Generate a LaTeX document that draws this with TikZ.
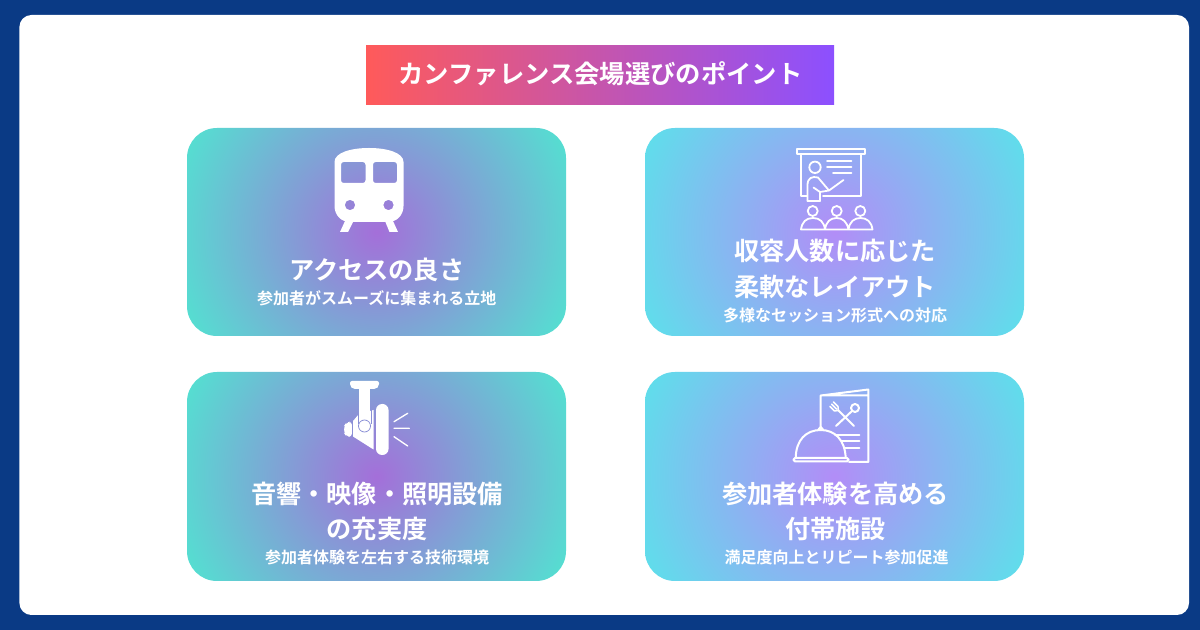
\documentclass[tikz,border=0pt]{standalone}
\usepackage{fontspec}
\setmainfont{Noto Sans CJK JP}[BoldFont={Noto Sans CJK JP Bold}]
\newfontfamily\jpbold{Noto Sans CJK JP Bold}
\usetikzlibrary{calc}
\definecolor{navy}{HTML}{0A3A85}
\definecolor{titleL}{HTML}{FF5A5A}
\definecolor{titleR}{HTML}{8C50FF}
\definecolor{ringc}{HTML}{8A8FD6}
\pgfdeclareradialshading{cardteal}{\pgfpoint{0bp}{0bp}}{rgb(0bp)=(0.643,0.435,0.851);rgb(25bp)=(0.333,0.871,0.820);rgb(50bp)=(0.333,0.871,0.820)}
\pgfdeclareradialshading{cardsky}{\pgfpoint{0bp}{0bp}}{rgb(0bp)=(0.698,0.553,0.969);rgb(25bp)=(0.376,0.867,0.922);rgb(50bp)=(0.376,0.867,0.922)}
\tikzset{
  headtext/.style={text=white,anchor=base,inner sep=0pt,font=\fontsize{18.9pt}{18.9pt}\selectfont\jpbold},
  subtext/.style={text=white,anchor=base,inner sep=0pt,font=\fontsize{12pt}{12pt}\selectfont\jpbold},
  titletext/.style={text=white,anchor=base,inner sep=0pt,font=\fontsize{19pt}{19pt}\selectfont\jpbold},
  iconthin/.style={draw=white,line width=1.35pt,line cap=round,line join=round},
  iconmenu/.style={draw=white,line width=1.5pt,line cap=round,line join=round},
}
% #1 left, #2 top, #3 right, #4 bottom, #5 shading
\newcommand{\cardbox}[5]{%
  \begin{scope}
    \clip[rounded corners=22.5pt] (#1,#2) rectangle (#3,#4);
    \shade[shading=#5] ({(#1+#3)/2},{(#2+#4)/2}) circle [radius=208];
  \end{scope}}
\begin{document}
\begin{tikzpicture}[x=0.75pt,y=-0.75pt]
\useasboundingbox (0,0) rectangle (1200,630);
\fill[navy] (0,0) rectangle (1200,630);
\fill[white,rounded corners=9pt] (19.4,15) rectangle (1189,615);
\shade[left color=titleL,right color=titleR] (366,45.4) rectangle (834,105);
\node[titletext] (title) at (600.5,84) {カンファレンス会場選びのポイント};

\cardbox{187}{128}{566}{336}{cardteal}
\cardbox{645}{128}{1024}{336}{cardsky}
\cardbox{187}{372}{566}{581}{cardteal}
\cardbox{645}{372}{1024}{581}{cardsky}

% train icon
\fill[white,even odd rule,rounded corners=0pt]
  (334.5,162) .. controls (334.5,153) and (350,148) .. (369,148) .. controls (388,148) and (403.5,153) .. (403.5,162)
  -- (403.5,206) .. controls (403.5,215) and (397,222) .. (388,222) -- (350,222) .. controls (341,222) and (334.5,215) .. (334.5,206) -- cycle
  [rounded corners=2pt] (341,162) rectangle (365.5,183)
  (373,162) rectangle (397,183)
  [sharp corners] (350,205) circle [radius=5.2]
  (388.5,205) circle [radius=5.2];
\fill[white] (345,221) -- (353.5,221) -- (348,232) -- (340,232) -- cycle;
\fill[white] (385,221) -- (393,221) -- (398,232) -- (389.5,232) -- cycle;

% presentation icon
\draw[iconthin] (797,149) rectangle (865,154);
\draw[iconthin] (801,154) -- (801,196) -- (807,196);
\draw[iconthin] (823,196) -- (861,196) -- (861,154);
\draw[iconthin] (815,167.3) circle [radius=5.7];
\draw[iconthin] (827,161) -- (851.5,161) (827,166.7) -- (851.5,166.7) (833,172.7) -- (851.5,172.7);
\draw[iconthin] (807.5,201) -- (807.5,185) .. controls (807.5,178) and (812,176) .. (818,177.5) -- (829,190.5) -- (843.5,180);
\draw[iconthin] (820,201) -- (820,192) -- (813.5,187.5);
\draw[iconthin] (807.5,201) -- (820,201);
\draw[iconthin] (829,190.5) -- (820,192);
\draw[iconthin] (812.7,211) circle [radius=5];
\draw[iconthin] (836.7,211) circle [radius=5];
\draw[iconthin] (860.3,211) circle [radius=5];
\draw[iconthin] (801,229.5) .. controls (802,222) and (806,218) .. (813,218) .. controls (820,218) and (824,222) .. (825,229.5)
  .. controls (826,222) and (830,218) .. (836.7,218) .. controls (843,218) and (847,222) .. (848.5,229.5)
  .. controls (849.5,222) and (854,218) .. (860.5,218) .. controls (867,218) and (871.5,222) .. (872.5,229.5) -- cycle;

% spotlight icon
\fill[white,rounded corners=1.5pt] (350,381) -- (379,381) -- (379,386) -- (376,389) -- (353,389) -- (350,386) -- cycle;
\fill[white] (353,421) -- (359,414) -- (373.5,410) -- (373.5,449.5) -- (353,436.5) -- cycle;
\fill[white,rounded corners=3pt] (352,421) -- (346,423) -- (344,426) -- (344,433) -- (346,436) -- (352,437.5) -- cycle;
\fill[white,rounded corners=4.5pt] (376,404) rectangle (388.5,455);
\fill[white] (359,389) rectangle (370,420);
\draw[ringc,line width=0.45pt] (358.3,414) -- (358.3,424) (371,410) -- (371,424);
\draw[ringc,line width=0.6pt] (364.5,426) circle [radius=6];
\fill[white] (364.5,426) circle [radius=5.3];
\fill[ringc] (351.7,421) rectangle (352.8,437);
\draw[iconthin,line width=1pt] (394,421.7) -- (407.7,413.3) (394,428.3) -- (409.3,428.3) (394,436.7) -- (407.7,446);

% menu icon
\draw[iconmenu] (820.7,428) -- (820.7,395.5) -- (868.3,395.5) (820.7,395.5) -- (868.3,389.5) -- (868.3,462) -- (849,462);
\draw[iconmenu] (855,408) circle [radius=4];
\draw[iconmenu] (852,411) -- (836,426) (854,426) -- (838.5,410.5);
\draw[iconmenu,line width=1.1pt] (838.5,410.5) -- (834.5,411) -- (830,406.5) (838.5,410.5) -- (838,406.5) -- (833.5,402) (836.5,409) -- (831.7,404.2);
\draw[iconmenu] (835,434.7) -- (859.3,434.7) (842,441.3) -- (859.3,441.3) (845,447.7) -- (859.3,447.7);
\draw[iconmenu] (795.7,458) .. controls (796,440) and (806,430) .. (820.7,430) .. controls (835,430) and (845,440) .. (845.7,458);
\draw[iconmenu] (818,430) -- (820.7,427) -- (823.4,430);
\draw[iconmenu,rounded corners=1.2pt] (793.5,458) rectangle (848.5,461.5);

% card texts
\node[headtext] (h1) at (376.8,280) {アクセスの良さ};
\node[subtext] (s1) at (376.8,304.5) {参加者がスムーズに集まれる立地};
\node[headtext] (h2a) at (835,261) {収容人数に応じた};
\node[headtext] (h2b) at (835,297) {柔軟なレイアウト};
\node[subtext] (s2) at (835,322) {多様なセッション形式への対応};
\node[headtext] (h3a) at (377,503.5) {音響・映像・照明設備};
\node[headtext] (h3b) at (377,538.5) {の充実度};
\node[subtext] (s3) at (377,563.5) {参加者体験を左右する技術環境};
\node[headtext] (h4a) at (835.5,503.5) {参加者体験を高める};
\node[headtext] (h4b) at (835.5,538.5) {付帯施設};
\node[subtext] (s4) at (836.5,563.5) {満足度向上とリピート参加促進};
\end{tikzpicture}
\end{document}
